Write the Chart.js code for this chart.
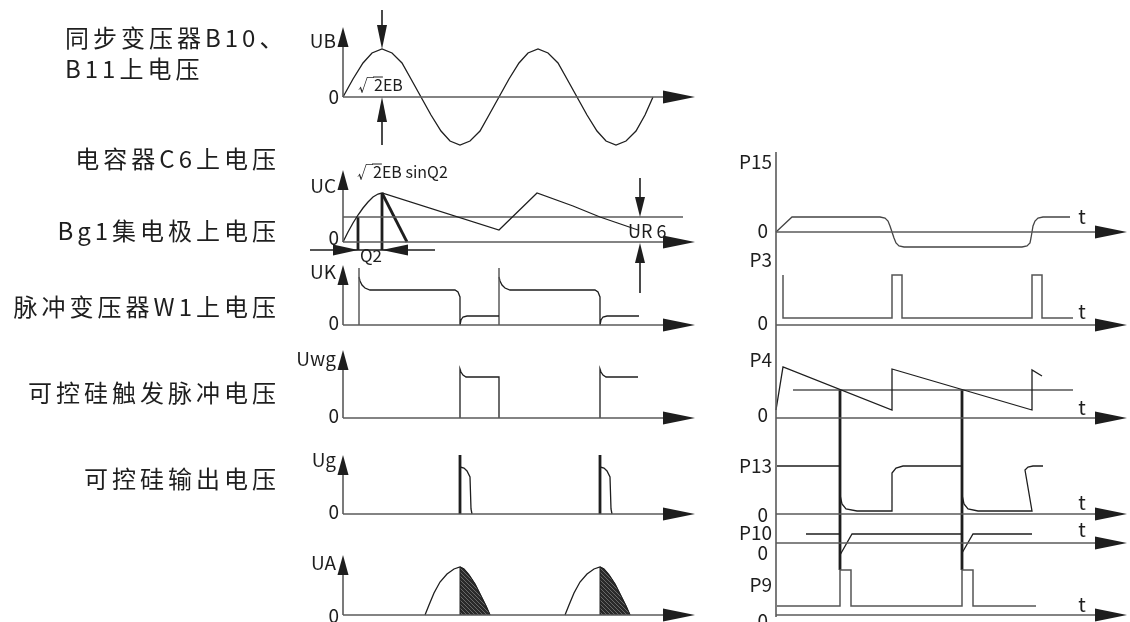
<!DOCTYPE html>
<html>
<head>
<meta charset="utf-8">
<script src="https://cdn.jsdelivr.net/npm/chart.js@4/dist/chart.umd.min.js"></script>
<style>
  html, body { margin: 0; padding: 0; background: #fff; }
  #c { display: block; }
</style>
</head>
<body>
<canvas id="c" width="1130" height="622"></canvas>
<script>
// ---- labels ----
const leftLabels = ['同步变压器B10、', 'B11上电压', '电容器C6上电压', 'Bg1集电极上电压', '脉冲变压器W1上电压', '可控硅触发脉冲电压', '可控硅输出电压'];
const leftNames = ['UB', 'UC', 'UK', 'Uwg', 'Ug', 'UA'];
const rightNames = ['P15', 'P3', 'P4', 'P13', 'P10', 'P9'];

// ---- waveforms (t = time from panel origin, v = level above zero line) ----
// UB: synchronous transformer voltage
const ubT = [0, 10, 20, 29, 39, 49, 59, 68, 78, 88, 98, 107, 117, 127, 137, 146, 156, 166, 176, 185, 195, 205, 215, 224, 234, 244, 254, 263, 273, 283, 293, 302, 310];
const ubV = [0, 18, 34, 44, 48, 44, 34, 18, 0, -18, -34, -44, -48, -44, -34, -18, 0, 18, 34, 44, 48, 44, 34, 18, 0, -18, -34, -44, -48, -44, -34, -18, 0];
// UC: capacitor C6
const ucT = [0, 5, 10, 15, 20, 25, 30, 35, 39, 156, 194, 230, 257, 295];
const ucV = [0, 10, 19, 27, 34, 40, 45, 48, 49, 12, 49, 36, 25, 12];
const ucRefT = [0, 340];
const ucRefV = [25, 25];
// UK: Bg1 collector
const ukRiseT = [16, 156];
const ukTopV = 57;
const ukBodyT = [0, 1, 3, 6, 11, 96, 99, 101, 101, 102, 104, 108, 140];
const ukBodyV = [48, 44, 40, 37, 35, 35, 33, 28, 0, 5, 8, 9, 9];
// Uwg: pulse transformer W1
const uwgT = [117, 257];
const uwgBodyT = [0, 0, 1, 3, 6, 12, 39, 39];
const uwgBodyV = [0, 49, 46, 43, 41, 41, 41, 0];
const uwgTail2T = [0, 0, 1, 3, 6, 12, 38];
const uwgTail2V = [0, 49, 46, 43, 41, 41, 41];
// Ug: trigger pulse
const ugT = [117, 257];
const ugSpikeV = 59;
const ugTailT = [0, 4, 7, 10, 11, 12];
const ugTailV = [47, 46, 43, 37, 5, 0];
// UA: thyristor output
const uaT = [117, 257];
const uaHumpT = [-35, -31, -26, -20, -13, -6, 0, 4, 9, 15, 21, 26, 30];
const uaHumpV = [0, 10, 22, 33, 41, 46, 48, 46, 40, 31, 19, 9, 0];
const uaShadeT = [0, 0, 4, 9, 15, 21, 26, 30];
const uaShadeV = [0, 48, 46, 40, 31, 19, 9, 0];

// P15
const p15T = [0, 16, 104, 109, 112, 114, 116, 118, 120, 123, 128, 246, 251, 254, 255, 256, 257, 259, 262, 267, 294];
const p15V = [0, 15, 15, 14, 11, 6, 0, -6, -11, -14, -15, -15, -14, -11, -6, 0, 6, 11, 14, 15, 15];
// P3
const p3T = [7, 7, 116, 116, 126, 126, 256, 256, 266, 266, 297];
const p3V = [50, 7, 7, 50, 50, 7, 7, 50, 50, 7, 7];
// P4
const p4T = [0, 7, 116, 116, 256, 256, 266];
const p4V = [8, 51, 8, 49, 8, 48, 42];
const p4RefT = [17, 297];
const p4RefV = [28, 28];
const fireT = [64, 186];
const fireV = [28, -152];
// P13
const p13T = [1, 64];
const p13V = [48, 48];
const p13BT = [64, 66, 70, 81, 116, 116, 120, 127, 186];
const p13BV = [19, 10, 5, 3, 3, 41, 46, 48, 48];
const p13CT = [186, 188, 192, 202, 256, 249, 252, 257, 267];
const p13CV = [19, 10, 5, 3, 3, 44, 47, 48, 48];
// P10
const p10AT = [30, 64];
const p10AV = [9, 9];
const p10BT = [64, 76, 186];
const p10BV = [-12, 9, 9];
const p10CT = [186, 197, 256];
const p10CV = [-10, 9, 9];
// P9
const p9T = [1, 64, 64, 75, 75, 186, 186, 197, 197, 260];
const p9V = [9, 9, 45, 45, 9, 9, 45, 45, 9, 9];

// ---- layout ----
const LX = 343, RX = 776;
const leftBase = [97, 242, 325, 418, 514, 615];
const rightBase = [232, 325, 418, 514, 543, 615];
const leftTip = [27, 170, 265, 350, 455, 555];
const LEND = 695, REND = 1127;
const INK = '#1e1e1e', AX = '#5a5a5a';
const FONT = '"Noto Sans CJK SC", "Noto Sans", sans-serif';

function pts(t, v, x0, y0, dt) {
  return t.map((tt, i) => ({ x: x0 + tt + (dt || 0), y: y0 - v[i] }));
}
const datasets = [];
function line(data, color, width, extra) {
  datasets.push(Object.assign({ data, borderColor: color, borderWidth: width, showLine: true, pointRadius: 0, fill: false, tension: 0 }, extra || {}));
}

// axes
leftBase.forEach((b, i) => {
  line([{ x: LX, y: b }, { x: LEND - 20, y: b }], AX, 1.6);
  line([{ x: LX, y: b }, { x: LX, y: leftTip[i] + 10 }], AX, 1.6);
});
rightBase.forEach(b => line([{ x: RX, y: b }, { x: REND - 20, y: b }], AX, 1.6));
line([{ x: RX, y: 152 }, { x: RX, y: 617 }], AX, 1.6);

// hatch pattern for conducting part
const pc = document.createElement('canvas');
pc.width = 4; pc.height = 4;
const px = pc.getContext('2d');
px.fillStyle = '#2a2a2a'; px.fillRect(0, 0, 4, 4);
px.strokeStyle = '#7a7a7a'; px.lineWidth = 0.8;
px.beginPath(); px.moveTo(0, 0); px.lineTo(4, 4); px.stroke();
const hatch = px.createPattern(pc, 'repeat');

// left waveforms
line(pts(ubT, ubV, LX, leftBase[0]), INK, 1.3);
line(pts(ucT, ucV, LX, leftBase[1]), INK, 1.3);
line(pts(ucRefT, ucRefV, LX, leftBase[1]), AX, 1.3);
line(pts([15, 15], [25, -8], LX, leftBase[1]), INK, 2.8);
line(pts([39, 39], [49, -8], LX, leftBase[1]), INK, 2.8);
line(pts([39, 64], [49, 0], LX, leftBase[1]), INK, 2.8);
line(pts([-33, 92], [-8, -8], LX, leftBase[1]), INK, 1.6);
ukRiseT.forEach(t => {
  line(pts([t, t], [0, ukTopV], LX, leftBase[2]), AX, 1.5);
  line(pts(ukBodyT, ukBodyV, LX, leftBase[2], t), INK, 1.3);
});
line(pts(uwgBodyT, uwgBodyV, LX, leftBase[3], uwgT[0]), INK, 1.3);
line(pts(uwgTail2T, uwgTail2V, LX, leftBase[3], uwgT[1]), INK, 1.3);
ugT.forEach(t => {
  line(pts([t, t], [0, ugSpikeV], LX, leftBase[4]), INK, 2.8);
  line(pts(ugTailT, ugTailV, LX, leftBase[4], t), INK, 1.3);
});
uaT.forEach(t => {
  line(pts(uaShadeT, uaShadeV, LX, leftBase[5], t), INK, 1, { fill: { value: leftBase[5] }, backgroundColor: hatch });
  line(pts(uaHumpT, uaHumpV, LX, leftBase[5], t), INK, 1.3);
});

// right waveforms
line(pts(p15T, p15V, RX, rightBase[0]), '#444', 1.3);
line(pts(p3T, p3V, RX, rightBase[1]), '#555', 1.5);
line(pts(p4T, p4V, RX, rightBase[2]), INK, 1.3);
line(pts(p4RefT, p4RefV, RX, rightBase[2]), '#555', 1.3);
line(pts(p13T, p13V, RX, rightBase[3]), INK, 1.3);
line(pts(p13BT, p13BV, RX, rightBase[3]), INK, 1.3);
line(pts(p13CT, p13CV, RX, rightBase[3]), INK, 1.3);
line(pts(p10AT, p10AV, RX, rightBase[4]), INK, 1.3);
line(pts(p10BT, p10BV, RX, rightBase[4]), INK, 1.3);
line(pts(p10CT, p10CV, RX, rightBase[4]), INK, 1.3);
line(pts(p9T, p9V, RX, rightBase[5]), '#555', 1.5);
fireT.forEach(t => line(pts([t, t], fireV, RX, rightBase[2]), INK, 2.8));

// annotation marker lines
line([{ x: 382, y: 10 }, { x: 382, y: 30 }], INK, 1.6);
line([{ x: 382, y: 120 }, { x: 382, y: 145 }], INK, 1.6);
line([{ x: 640, y: 178 }, { x: 640, y: 200 }], INK, 1.6);
line([{ x: 640, y: 260 }, { x: 640, y: 293 }], INK, 1.6);

// arrowheads: tip x, tip y, direction, length, half width
const arrows = [];
leftBase.forEach((b, i) => {
  arrows.push([LEND, b, 'r', 32, 6.5]);
  arrows.push([LX, leftTip[i], 'u', 20, 5.5]);
});
rightBase.forEach(b => arrows.push([REND, b, 'r', 32, 6.5]));
arrows.push([382, 49, 'd', 24, 5], [382, 97, 'u', 25, 5]);
arrows.push([358, 250, 'r', 25, 5.5], [382, 250, 'l', 26, 5.5]);
arrows.push([640, 217, 'd', 20, 5], [640, 243, 'u', 20, 5]);

// texts: string, x, y, size, align
const texts = [];
texts.push([leftLabels[0], 65, 38, 24, 'left'], [leftLabels[1], 65, 69, 24, 'left']);
[159, 231, 307, 393, 479].forEach((y, i) => texts.push([leftLabels[i + 2], 280, y, 24, 'right']));
const nameY = [41, 186, 272, 359, 460, 563];
leftNames.forEach((n, i) => texts.push([n, 336, nameY[i], 19, 'right']));
[97, 238, 323, 416, 512, 616].forEach(y => texts.push(['0', 339, y, 19, 'right']));
const rNameY = [162, 260, 360, 466, 533, 585];
rightNames.forEach((n, i) => texts.push([n, 772, rNameY[i], 19, 'right']));
[231, 323, 415, 515, 553, 621].forEach(y => texts.push(['0', 768, y, 19, 'right']));
[216, 311, 407, 502, 529, 604].forEach(y => texts.push(['t', 1082, y, 20, 'center']));
texts.push(['√2EB', 358, 85, 16, 'left'], ['√2EB sinQ2', 357, 172, 16, 'left']);
texts.push(['Q2', 360, 256, 17, 'left'], ['UR 6', 628, 231, 18, 'left']);

const drawing = {
  id: 'drawing',
  afterDatasetsDraw(chart) {
    const { ctx, scales: { x, y } } = chart;
    ctx.save();
    ctx.fillStyle = INK;
    arrows.forEach(([ax, ay, d, len, hw]) => {
      const X = x.getPixelForValue(ax), Y = y.getPixelForValue(ay);
      ctx.beginPath();
      ctx.moveTo(X, Y);
      if (d === 'r') { ctx.lineTo(X - len, Y - hw); ctx.lineTo(X - len, Y + hw); }
      if (d === 'l') { ctx.lineTo(X + len, Y - hw); ctx.lineTo(X + len, Y + hw); }
      if (d === 'u') { ctx.lineTo(X - hw, Y + len); ctx.lineTo(X + hw, Y + len); }
      if (d === 'd') { ctx.lineTo(X - hw, Y - len); ctx.lineTo(X + hw, Y - len); }
      ctx.closePath();
      ctx.fill();
    });
    ctx.textBaseline = 'middle';
    texts.forEach(([s, tx, ty, size, align]) => {
      ctx.font = size + 'px ' + FONT;
      ctx.letterSpacing = size > 20 ? '4px' : '0px';
      ctx.textAlign = align;
      ctx.fillText(s, x.getPixelForValue(tx), y.getPixelForValue(ty));
      if (s.startsWith('√2')) {
        // overbar of the root sign
        const w0 = ctx.measureText('√').width, w1 = ctx.measureText('√2').width;
        const X = x.getPixelForValue(tx), Y = y.getPixelForValue(ty) - size * 0.5;
        ctx.strokeStyle = INK; ctx.lineWidth = 1;
        ctx.beginPath(); ctx.moveTo(X + w0 - 1, Y); ctx.lineTo(X + w1, Y); ctx.stroke();
      }
    });
    ctx.restore();
  }
};

new Chart(document.getElementById('c'), {
  type: 'scatter',
  data: { datasets },
  options: {
    responsive: false,
    animation: false,
    events: [],
    layout: { padding: 0 },
    plugins: { legend: { display: false }, tooltip: { enabled: false } },
    scales: {
      x: { type: 'linear', min: 0, max: 1130, display: false },
      y: { type: 'linear', min: 0, max: 622, reverse: true, display: false }
    }
  },
  plugins: [drawing]
});
</script>
</body>
</html>
